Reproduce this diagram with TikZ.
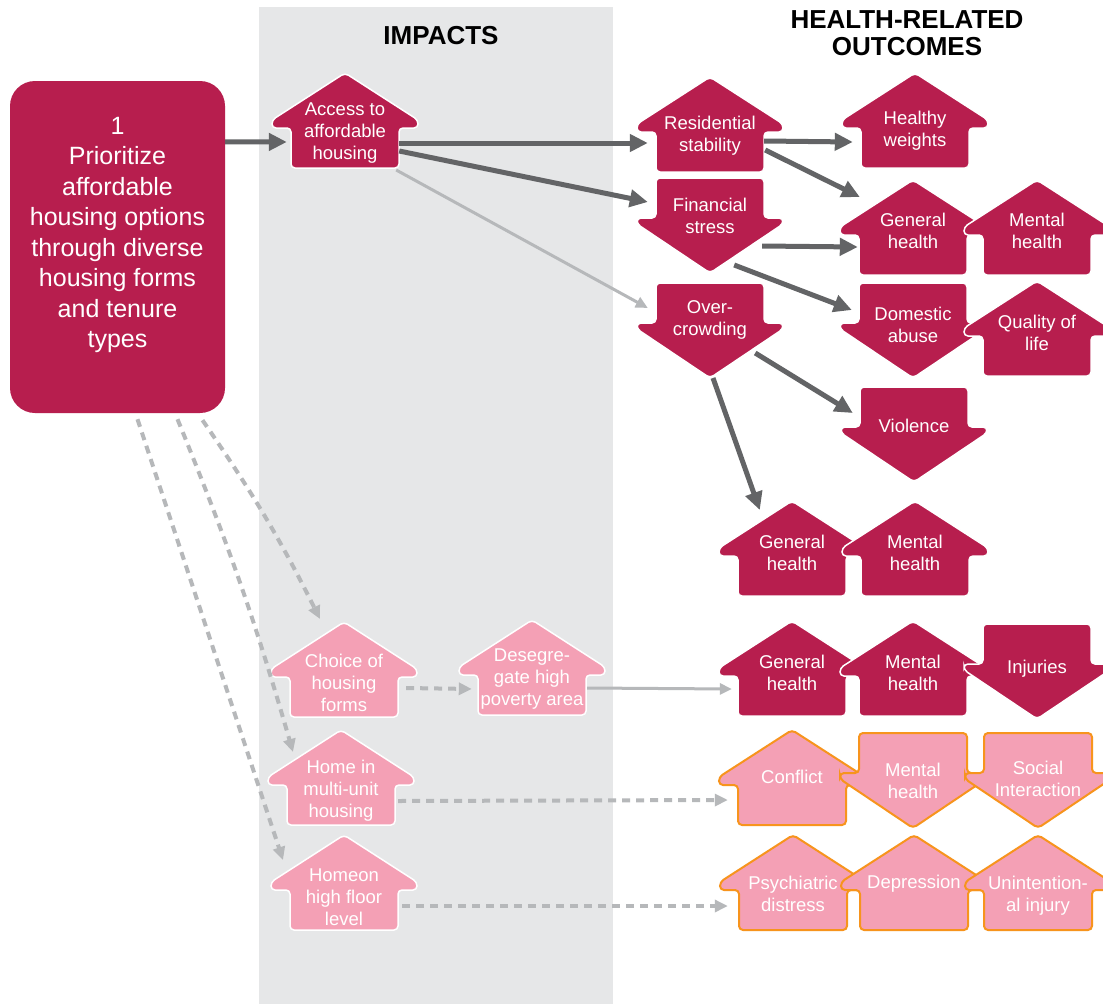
\documentclass[tikz,border=0pt]{standalone}
\usepackage{fontspec}
\setmainfont{Liberation Sans}
\usetikzlibrary{arrows.meta,calc}
\definecolor{crimc}{RGB}{183,30,78}
\definecolor{pinkc}{RGB}{244,160,181}
\definecolor{orangec}{RGB}{247,148,29}
\definecolor{bandc}{RGB}{230,231,232}
\definecolor{darkc}{RGB}{99,100,102}
\definecolor{lightc}{RGB}{182,184,186}
\tikzset{
 crimsh/.style={fill=crimc, draw=white, line width=1.5pt, rounded corners=4pt},
 pinkw/.style={fill=pinkc, draw=white, line width=1.5pt, rounded corners=4pt},
 pinko/.style={fill=pinkc, draw=orangec, line width=2pt, rounded corners=4pt},
 lbl/.style={text=white, align=center, inner sep=0pt, minimum width=108pt, font=\fontsize{18.5}{22}\selectfont},
 darr/.style={draw=darkc, line width=5pt, -{Triangle[length=18pt,width=17pt]}},
 larr/.style={draw=lightc, line width=3pt, -{Triangle[length=12pt,width=11pt]}},
 dsharr/.style={draw=lightc, line width=4pt, dash pattern=on 8pt off 6pt, -{Triangle[length=13pt,width=12pt]}},
 ttl/.style={align=center, inner sep=0pt, font=\bfseries\fontsize{26}{27}\selectfont},
}
% #1 text offset, #2 name, #3 cx, #4 top, #5 style, #6 text
\newcommand\houseup[6][58]{%
  \draw[#5] (#3,#4) -- ++(73,47) -- ++(0,8) -- ++(-19,0) -- ++(0,40) -- ++(-108,0) -- ++(0,-40) -- ++(-19,0) -- ++(0,-8) -- cycle;
  \node[lbl] (#2) at (#3,#4+#1) {#6};}
\newcommand\housedown[6][40]{%
  \draw[#5] (#3-54,#4) -- ++(108,0) -- ++(0,40) -- ++(19,0) -- ++(0,6) -- ++(-73,49) -- ++(-73,-49) -- ++(0,-6) -- ++(19,0) -- cycle;
  \node[lbl] (#2) at (#3,#4+#1) {#6};}
\begin{document}
\begin{tikzpicture}[x=1pt,y=-1pt]
\useasboundingbox (0,0) rectangle (1103,1004);
\fill[white] (0,0) rectangle (1103,1004);
\fill[bandc] (259,7) rectangle (613,1004);
% titles
\node[ttl] (t1) at (441,36) {IMPACTS};
\node[ttl] (t2) at (907,33) {HEALTH-RELATED\\OUTCOMES};
% main box
\node[fill=crimc, rounded corners=25pt, minimum width=215pt, minimum height=332pt, inner sep=0pt] (box) at (117.5,247) {};
\node[text=white, align=center, inner sep=0pt, font=\fontsize{25}{30.5}\selectfont] (boxtxt) at (117.5,235) {1\\Prioritize\\affordable\\housing options\\through diverse\\housing forms\\and tenure\\types};
% impacts
\houseup[60]{acc}{345}{73}{crimsh}{Access to\\affordable\\housing}
\houseup[61]{choice}{344}{622}{pinkw}{Choice of\\housing\\forms}
\houseup[59]{deseg}{532}{620}{pinkw}{Desegre-\\gate high\\poverty area}
\houseup[61]{hm}{341}{730}{pinkw}{Home in\\multi-unit\\housing}
\houseup[62]{hf}{344}{835}{pinkw}{Homeon\\high floor\\level}
% middle column
\houseup[59]{rs}{710}{77}{crimsh}{Residential\\stability}
\housedown[38]{fs}{710}{178}{crimsh}{Financial\\stress}
\housedown[37]{oc}{710}{283}{crimsh}{Over-\\crowding}
% outcomes
\houseup[58]{hw}{915}{73}{crimsh}{Healthy\\weights}
\houseup[51]{gh1}{913}{180}{crimsh}{General\\health}
\houseup[51]{mh1}{1037}{180}{crimsh}{Mental\\health}
\housedown[42]{da}{913}{283}{crimsh}{Domestic\\abuse}
\houseup[52]{ql}{1037}{281}{crimsh}{Quality of\\life}
\housedown[39]{vi}{914}{387}{crimsh}{Violence}
\houseup[52]{gh2}{792}{501}{crimsh}{General\\health}
\houseup[52]{mh2}{915}{501}{crimsh}{Mental\\health}
\houseup[52]{gh3}{792}{621}{crimsh}{General\\health}
\houseup[52]{mh3}{913}{621}{crimsh}{Mental\\health}
\housedown[45]{inj}{1037}{624}{crimsh}{Injuries}
\houseup[47]{cf}{792}{730}{pinko}{Conflict}
\housedown[48]{mh4}{913}{733}{pinko}{Mental\\health}
\housedown[46]{si}{1038}{733}{pinko}{Social\\Interaction}
\houseup[59]{ps}{793}{835}{pinko}{Psychiatric\\distress}
\houseup[49]{dep}{914}{835}{pinko}{Depression}
\houseup[61]{ui}{1038}{835}{pinko}{Unintention-\\al injury}
% connectors
\draw[darr] ($(box.north east)+(0,61)$) -- ($(acc.west)+(-4,9)$);
\draw[darr] ($(acc.east)+(0,10)$) -- ($(rs.west)+(-8,7)$);
\draw[darr] ($(acc.east)+(0,18)$) -- ($(fs.west)+(-8,-14)$);
\draw[larr] ($(acc.east)+(-3,37)$) -- ($(oc.west)+(-8,-12)$);
\draw[darr] ($(rs.east)+(0,5)$) -- ($(hw.west)+(-8,11)$);
\draw[darr] ($(rs.east)+(1,14)$) -- ($(gh1.west)+(1,-34)$);
\draw[darr] ($(fs.east)+(-2,30)$) -- ($(gh1.west)+(-1,16)$);
\draw[darr] ($(fs.east)+(-30,49)$) -- ($(da.west)+(-7,-15)$);
\draw[darr] ($(oc.east)+(-9,33)$) -- ($(vi.west)+(-7,-13)$);
\draw[darr] ($(oc.center)+(3,58)$) -- ($(gh2.west)+(22,-43)$);
\draw[larr] ($(deseg.east)+(1,9)$) -- ($(gh3.west)+(-6,16)$);
\draw[dsharr] ($(box.south)+(85,7)$) to[bend left=4] ($(choice.center)+(-24,-64)$);
\draw[dsharr] ($(box.south)+(60,6)$) to[bend left=3] ($(hm.center)+(-48,-39)$);
\draw[dsharr] ($(box.south)+(20,6)$) -- ($(hf.center)+(-61,-37)$);
\draw[dsharr] ($(choice.east)+(8,5)$) -- ($(deseg.west)+(-6,10)$);
\draw[dsharr] ($(hm.east)+(3,10)$) -- ($(cf.west)+(-10,23)$);
\draw[dsharr] ($(hf.east)+(4,9)$) -- ($(ps.west)+(-11,12)$);
\end{tikzpicture}
\end{document}
